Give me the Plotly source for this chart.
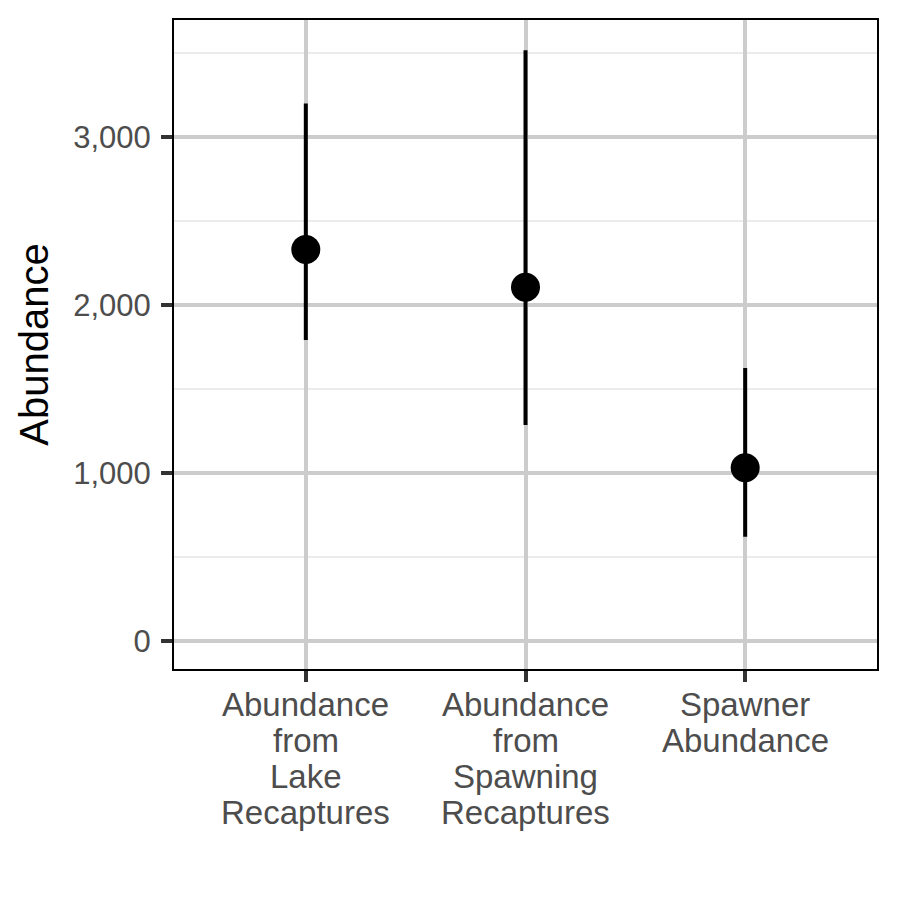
import plotly.graph_objects as go

categories = ["Abundance<br>from<br>Lake<br>Recaptures",
              "Abundance<br>from<br>Spawning<br>Recaptures",
              "Spawner<br>Abundance"]
estimate = [2331, 2107, 1032]
upper = [3200, 3518, 1625]
lower = [1792, 1286, 621]
y_tickvals = [0, 1000, 2000, 3000]
y_ticktext = ["0", "1,000", "2,000", "3,000"]

x_idx = list(range(len(categories)))
err_plus = [u - e for u, e in zip(upper, estimate)]
err_minus = [e - l for e, l in zip(estimate, lower)]

font_family = "Liberation Sans, Arial, sans-serif"

fig = go.Figure()
fig.add_trace(go.Scatter(
    x=x_idx, y=estimate, mode="markers",
    marker=dict(color="black", size=29),
    error_y=dict(type="data", symmetric=False, array=err_plus, arrayminus=err_minus,
                 color="black", thickness=4, width=0),
    showlegend=False,
))

# multi-line category labels with ggplot-like tight line spacing
for i, label in enumerate(categories):
    for j, line in enumerate(label.split("<br>")):
        fig.add_annotation(
            x=i, xref="x", y=0, yref="paper", yanchor="top", xanchor="center",
            yshift=-(15 + 36 * j), text=line, showarrow=False,
            font=dict(size=33, color="#4D4D4D", family=font_family),
        )

fig.update_layout(
    width=900, height=900,
    margin=dict(l=174, r=23, t=20, b=231),
    paper_bgcolor="white", plot_bgcolor="white",
    font=dict(family=font_family),
)
fig.update_xaxes(
    range=[-0.6, 2.6],
    tickmode="array", tickvals=x_idx, ticktext=[""] * len(categories),
    showgrid=True, gridcolor="#CCCCCC", gridwidth=4,
    showline=True, linecolor="black", linewidth=2, mirror=True,
    ticks="outside", ticklen=11, tickwidth=4, tickcolor="#333333",
    zeroline=False,
)
fig.update_yaxes(
    range=[-167, 3698],
    tickmode="array", tickvals=y_tickvals, ticktext=y_ticktext,
    tickfont=dict(size=31, color="#4D4D4D", family=font_family),
    showgrid=True, gridcolor="#CCCCCC", gridwidth=4,
    minor=dict(tickvals=[500, 1500, 2500, 3500], showgrid=True, gridcolor="#EBEBEB", gridwidth=2, ticks=""),
    showline=True, linecolor="black", linewidth=2, mirror=True,
    ticks="outside", ticklen=11, tickwidth=4, tickcolor="#333333",
    ticklabelstandoff=4,
    zeroline=False,
    title=dict(text="Abundance", font=dict(size=40, color="black", family=font_family), standoff=12),
)
fig.write_html("out.html")
